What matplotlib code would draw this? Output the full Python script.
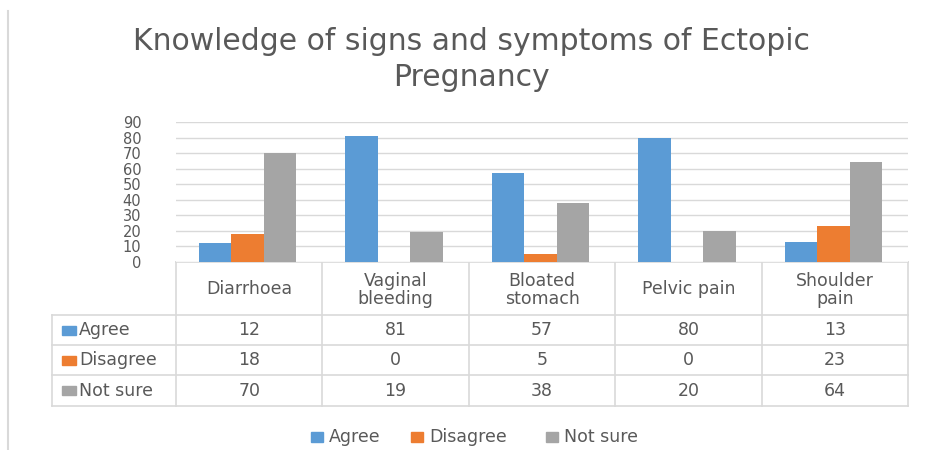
import numpy as np
import matplotlib
matplotlib.use('Agg')
import matplotlib.pyplot as plt
from matplotlib.patches import Rectangle

categories = ['Diarrhoea', 'Vaginal\nbleeding', 'Bloated\nstomach', 'Pelvic pain', 'Shoulder\npain']
series = ['Agree', 'Disagree', 'Not sure']
agree = [12, 81, 57, 80, 13]
disagree = [18, 0, 5, 0, 23]
not_sure = [70, 19, 38, 20, 64]
colors = ['#5B9BD5', '#ED7D31', '#A5A5A5']
yticks = list(range(0, 100, 10))

W, H = 926, 450
TXT = '#595959'
GRID = '#D9D9D9'
FONT = 'DejaVu Sans'
FS = 12.5

fig = plt.figure(figsize=(W / 100, H / 100), dpi=100)

# pixel layout of the Excel chart
px_left, px_right = 176, 908
px_top, px_zero = 122, 262
lab_left = 52
row_lines = [262, 315, 345, 375, 406]

ax = fig.add_axes([px_left / W, 1 - px_zero / H,
                   (px_right - px_left) / W, (px_zero - px_top) / H])
values = [agree, disagree, not_sure]
x = np.arange(len(categories))
bw = 0.222
for k, (vals, c) in enumerate(zip(values, colors)):
    ax.bar(x + (k - 1) * bw - 0.01, vals, bw, color=c, zorder=3, label=series[k])
ax.set_xlim(-0.5, len(categories) - 0.5)
ax.set_ylim(0, 90)
ax.set_yticks(yticks)
ax.set_yticklabels([str(t) for t in yticks], fontsize=10.5, color=TXT, family=FONT)
ax.tick_params(axis='y', length=0, pad=25)
ax.tick_params(axis='x', length=0, labelbottom=False)
ax.grid(axis='y', color=GRID, lw=1, zorder=0)
for s in ax.spines.values():
    s.set_visible(False)

# overlay in pixel coordinates for table, title, legend, border
ov = fig.add_axes([0, 0, 1, 1], zorder=-1)
ov.set_xlim(0, W)
ov.set_ylim(H, 0)
ov.axis('off')

ov.plot([8, 8], [11, 450], color=GRID, lw=1.5)

ov.text(471, 42, 'Knowledge of signs and symptoms of Ectopic', ha='center', va='center',
        fontsize=21.5, color=TXT, family=FONT)
ov.text(471, 77, 'Pregnancy', ha='center', va='center',
        fontsize=21.5, color=TXT, family=FONT)

cw = (px_right - px_left) / len(categories)
col_x = [px_left + i * cw for i in range(len(categories) + 1)]

# table grid
ov.plot([px_left, px_right], [row_lines[0]] * 2, color=GRID, lw=1.2)
for y in row_lines[1:]:
    ov.plot([lab_left, px_right], [y, y], color=GRID, lw=1.2)
for cx in col_x:
    ov.plot([cx, cx], [row_lines[0], row_lines[-1]], color=GRID, lw=1.2)
ov.plot([lab_left, lab_left], [row_lines[1], row_lines[-1]], color=GRID, lw=1.2)

for i, cat in enumerate(categories):
    cx = col_x[i] + cw / 2
    ov.text(cx, (row_lines[0] + row_lines[1]) / 2 + 1, cat, ha='center', va='center',
            fontsize=FS, color=TXT, family=FONT, linespacing=1.0)
    for r, vals in enumerate(values):
        ov.text(cx, (row_lines[r + 1] + row_lines[r + 2]) / 2, str(vals[i]),
                ha='center', va='center', fontsize=FS, color=TXT, family=FONT)

for r, name in enumerate(series):
    yc = (row_lines[r + 1] + row_lines[r + 2]) / 2
    ov.add_patch(Rectangle((62, yc - 4.5), 14, 9, color=colors[r]))
    ov.text(79, yc, name, ha='left', va='center', fontsize=FS, color=TXT, family=FONT)

# legend
leg_x = [311, 411, 546]
for name, c, lx in zip(series, colors, leg_x):
    ov.add_patch(Rectangle((lx, 432), 12, 10, color=c))
    ov.text(lx + 18, 437, name, ha='left', va='center', fontsize=FS, color=TXT, family=FONT)

fig.savefig('out.png', dpi=100, facecolor='white')
